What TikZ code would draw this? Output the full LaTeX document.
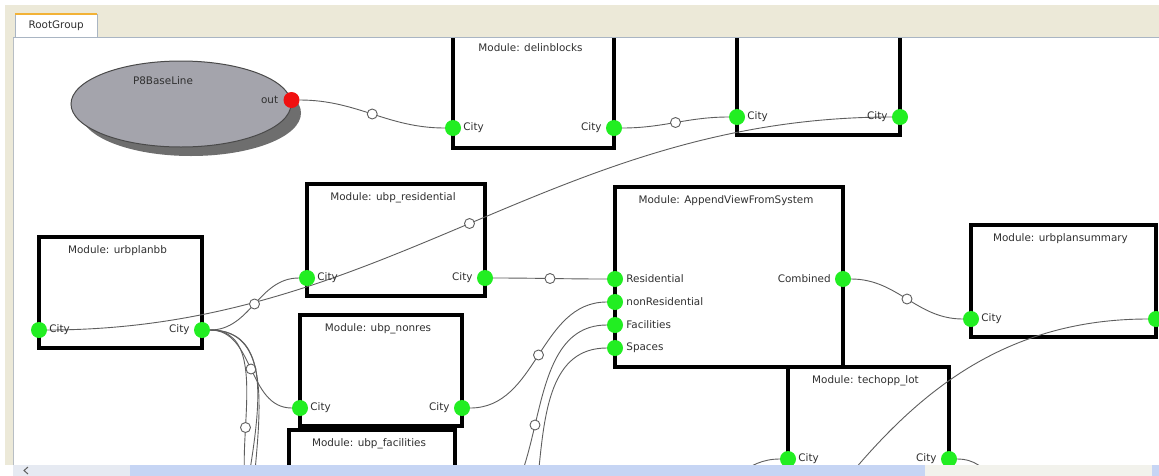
\documentclass[tikz,border=0pt]{standalone}
\usepackage{fontspec}
\setmainfont{DejaVu Sans}
\usetikzlibrary{positioning,shapes.geometric,shadows}
\definecolor{portgreen}{HTML}{22EE22}
\definecolor{outred}{HTML}{F01010}
\definecolor{wiregray}{HTML}{5E5E5E}
\definecolor{barbeige}{HTML}{ECE9D8}
\definecolor{ovalgray}{HTML}{A4A4AC}
\definecolor{ovaledge}{HTML}{4A4A4A}
\definecolor{shadowgray}{HTML}{6E6E6E}
\definecolor{scrollblue}{HTML}{C6D5F4}
\definecolor{scrollpale}{HTML}{E6EAF2}
\definecolor{scrollgray}{HTML}{F2F2EC}
\definecolor{stripline}{HTML}{B8BEC4}
\definecolor{tabline}{HTML}{A9B5C3}
\definecolor{taborange}{HTML}{F2B236}
\definecolor{textgray}{HTML}{303030}
\pgfdeclarelayer{boxes}
\pgfdeclarelayer{wires}
\pgfdeclarelayer{front}
\pgfsetlayers{boxes,wires,main,front}

\begin{document}
\begin{tikzpicture}[x=1pt,y=-1pt,font=\fontsize{10.4}{12}\selectfont,text=textgray,
 module/.style={draw=black,line width=3.2pt,fill=white,anchor=north west,inner sep=0pt,outer sep=0pt},
 mtitle/.style={inner sep=0pt,xshift=-3pt},
 port/.style={circle,fill=portgreen,minimum size=16pt,inner sep=0pt},
 plab/.style={inner sep=0pt},
 knot/.style={circle,draw=wiregray,fill=white,line width=0.9pt,minimum size=10pt,inner sep=0pt},
 wire/.style={draw=wiregray,line width=0.9pt}]
\useasboundingbox (0,0) rectangle (1159,475);

\begin{pgfonlayer}{boxes}
\fill[white] (0,0) rectangle (1159,475);
\node[ellipse,draw=ovaledge,fill=ovalgray,line width=1pt,minimum width=220pt,minimum height=86pt,
 drop shadow={shadow xshift=10pt,shadow yshift=-9pt,fill=shadowgray,opacity=1}] (base) at (181,104) {};
\node[module,minimum width=161pt,minimum height=113pt] (delin) at (453,35) {};
\node[module,minimum width=163pt,minimum height=113pt] (upper) at (737,22) {};
\node[module,minimum width=163pt,minimum height=111pt] (bb) at (39,237) {};
\node[module,minimum width=178pt,minimum height=112pt] (res) at (307,184) {};
\node[module,minimum width=162pt,minimum height=111pt] (nonres) at (300,315) {};
\node[module,minimum width=166pt,minimum height=113pt] (fac) at (289,430) {};
\node[module,minimum width=228pt,minimum height=180pt] (avfs) at (615,187) {};
\node[module,minimum width=185pt,minimum height=112pt] (summ) at (971,225) {};
\node[module,minimum width=161pt,minimum height=110pt] (tech) at (788,367) {};
\end{pgfonlayer}

\node (tbase) at ([xshift=-18pt,yshift=23pt]base.center) {P8BaseLine};
\node[circle,fill=outred,minimum size=16pt,inner sep=0pt,yshift=4pt] (out) at (base.east) {};
\node[plab,left=5pt of out] (lout) {out};

\node[mtitle,below=8.5pt of delin.north] (tdelin) {Module: delinblocks};
\node[mtitle,below=8.5pt of bb.north] (tbb) {Module: urbplanbb};
\node[mtitle,below=8.5pt of res.north] (tres) {Module: ubp\_residential};
\node[mtitle,below=8.5pt of nonres.north] (tnonres) {Module: ubp\_nonres};
\node[mtitle,below=8.5pt of fac.north] (tfac) {Module: ubp\_facilities};
\node[mtitle,below=8.5pt of avfs.north] (tavfs) {Module: AppendViewFromSystem};
\node[mtitle,below=8.5pt of summ.north] (tsumm) {Module: urbplansummary};
\node[mtitle,below=8.5pt of tech.north] (ttech) {Module: techopp\_lot};

\node[port,yshift=20pt] (dL) at (delin.south west) {};
\node[port,yshift=20pt] (dR) at (delin.south east) {};
\node[port,yshift=18pt] (uL) at (upper.south west) {};
\node[port,yshift=18pt] (uR) at (upper.south east) {};
\node[port,yshift=18pt] (bbL) at (bb.south west) {};
\node[port,yshift=18pt] (bbR) at (bb.south east) {};
\node[port,yshift=18pt] (resL) at (res.south west) {};
\node[port,yshift=18pt] (resR) at (res.south east) {};
\node[port,yshift=18pt] (nonL) at (nonres.south west) {};
\node[port,yshift=18pt] (nonR) at (nonres.south east) {};
\node[port,yshift=18pt] (facL) at (fac.south west) {};
\node[port,yshift=18pt] (facR) at (fac.south east) {};
\node[port,yshift=-92pt] (avRes) at (avfs.north west) {};
\node[port,yshift=-115pt] (avNon) at (avfs.north west) {};
\node[port,yshift=-138pt] (avFac) at (avfs.north west) {};
\node[port,yshift=-161pt] (avSpa) at (avfs.north west) {};
\node[port,yshift=-92pt] (avComb) at (avfs.north east) {};
\node[port,yshift=18pt] (summL) at (summ.south west) {};
\node[port,yshift=18pt] (summR) at (summ.south east) {};
\node[port,yshift=18pt] (techL) at (tech.south west) {};
\node[port,yshift=18pt] (techR) at (tech.south east) {};

\node[plab,right=2pt of dL] (ldL) {City};
\node[plab,left=4pt of dR] (ldR) {City};
\node[plab,right=2pt of uL] (luL) {City};
\node[plab,left=4pt of uR] (luR) {City};
\node[plab,right=2pt of bbL] (lbbL) {City};
\node[plab,left=4pt of bbR] (lbbR) {City};
\node[plab,right=2pt of resL] (lresL) {City};
\node[plab,left=4pt of resR] (lresR) {City};
\node[plab,right=2pt of nonL] (lnonL) {City};
\node[plab,left=4pt of nonR] (lnonR) {City};
\node[plab,right=3pt of avRes] (lavRes) {Residential};
\node[plab,right=3pt of avNon] (lavNon) {nonResidential};
\node[plab,right=3pt of avFac] (lavFac) {Facilities};
\node[plab,right=3pt of avSpa] (lavSpa) {Spaces};
\node[plab,left=4pt of avComb] (lavComb) {Combined};
\node[plab,right=2pt of summL] (lsummL) {City};
\node[plab,right=2pt of techL] (ltechL) {City};
\node[plab,left=4pt of techR] (ltechR) {City};

\coordinate (dn1) at (285,640);
\coordinate (dn2) at (300,610);
\coordinate (dn3) at (470,600);
\coordinate (dn4) at (650,650);
\coordinate (dn5) at (640,560);
\coordinate (dn6) at (1060,600);

\begin{pgfonlayer}{wires}
\draw[wire] (out) to[out=0,in=180] node[knot] (k1) {} (dL);
\draw[wire] (dR) to[out=0,in=180] node[knot] (k2) {} (uL);
\draw[wire] (bbL) to[out=0,in=180] node[knot] (k3) {} (uR);
\draw[wire] (bbR) to[out=0,in=180] node[knot] (k4) {} (resL);
\draw[wire] (bbR) to[out=0,in=180] node[knot] (k5) {} (nonL);
\draw[wire] (bbR) to[out=0,in=180] node[knot] (k6) {} (facL);
\draw[wire] (bbR) to[out=0,in=180] (dn1);
\draw[wire] (bbR) to[out=0,in=180] (dn2);
\draw[wire] (resR) to[out=0,in=180] node[knot] (k7) {} (avRes);
\draw[wire] (nonR) to[out=0,in=180] node[knot] (k8) {} (avNon);
\draw[wire] (facR) to[out=0,in=180] node[knot] (k9) {} (avFac);
\draw[wire] (dn3) to[out=0,in=180] (avSpa);
\draw[wire] (avComb) to[out=0,in=180] node[knot] (k10) {} (summL);
\draw[wire] (dn4) .. controls +(150,0) and +(-310,0) .. (summR);
\draw[wire] (dn5) to[out=0,in=180] (techL);
\draw[wire] (techR) to[out=0,in=180] (dn6);
\end{pgfonlayer}

\begin{pgfonlayer}{front}
\fill[barbeige] (5,5) rectangle (1159,37);
\fill[barbeige] (5,37) rectangle (13,465);
\draw[stripline] (13,37) -- (13,465);
\draw[tabline] (13,37) -- (1159,37);
\node[draw=tabline,fill=white,anchor=north west,minimum width=82pt,minimum height=23pt,inner sep=0pt] (tab) at (15,14) {RootGroup};
\draw[taborange,line width=2pt] (tab.north west) -- (tab.north east);
\fill[white] (0,465) rectangle (1159,500);
\fill[scrollpale] (13,465) rectangle (130,500);
\fill[scrollblue] (130,465) rectangle (925,500);
\fill[scrollgray] (925,465) rectangle (1152,500);
\fill[scrollblue] (1152,465) rectangle (1159,500);
\draw[wiregray,line width=1pt] (28,467) -- (24,470.5) -- (28,474);
\end{pgfonlayer}
\end{tikzpicture}
\end{document}
